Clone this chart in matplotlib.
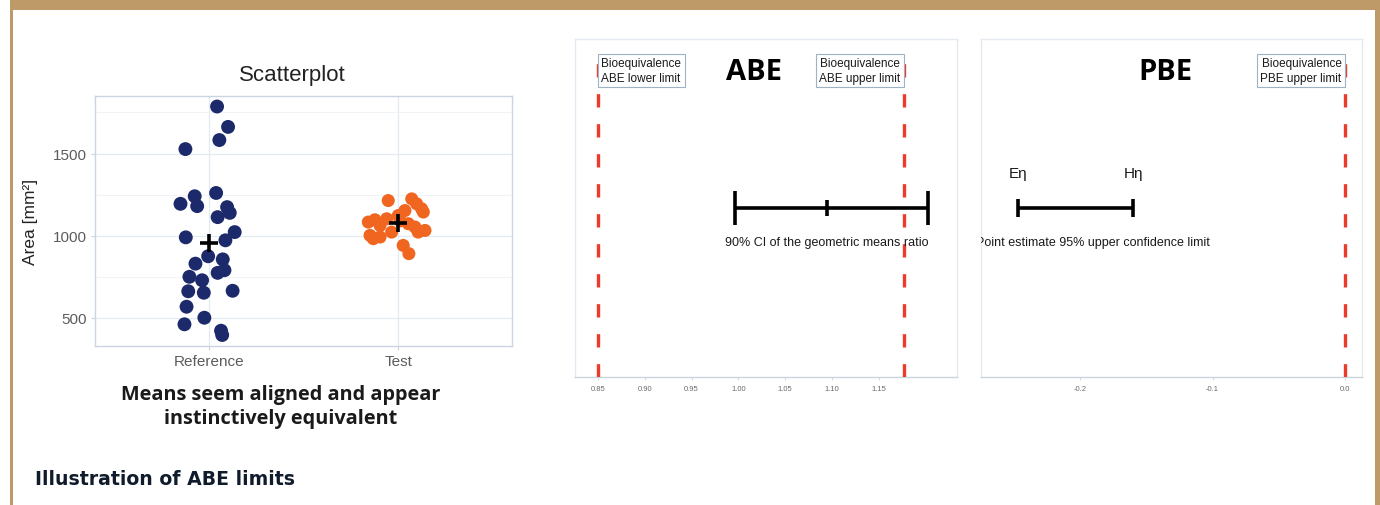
import matplotlib
matplotlib.use("Agg")
import matplotlib.pyplot as plt
from matplotlib.patches import Rectangle
import numpy as np

W, H = 1380, 506

# ---- scatterplot data -------------------------------------------------
groups = ["Reference", "Test"]
ref_area = [1786, 1662, 1582, 1527, 1260, 1240, 1194, 1180, 1174, 1139,
            1113, 1022, 990, 972, 875, 856, 830, 790, 774, 750,
            729, 662, 653, 665, 568, 501, 461, 422, 396]
ref_jitter = [0.044, 0.102, 0.056, -0.123, 0.039, -0.074, -0.149, -0.061, 0.097, 0.111,
              0.047, 0.137, -0.121, 0.088, -0.003, 0.074, -0.070, 0.083, 0.047, -0.102,
              -0.035, -0.108, -0.026, 0.126, -0.117, -0.023, -0.128, 0.065, 0.071]
test_area = [1214, 1224, 1194, 1164, 1144, 1153, 1123, 1103, 1097, 1083,
             1062, 1073, 1053, 1032, 1022, 1002, 992, 982, 1022, 941, 891, 1090]
test_jitter = [-0.053, 0.071, 0.097, 0.123, 0.132, 0.035, 0.000, -0.061, -0.123, -0.158,
               -0.096, 0.053, 0.088, 0.141, 0.105, -0.149, -0.096, -0.132, -0.035, 0.026,
               0.056, 0.010]
area_ticks = [500, 1000, 1500]

# ---- ABE panel data ---------------------------------------------------
abe_lower = 0.85
abe_upper = 1 / 0.85
abe_ci = (0.996, 1.094, 1.202)          # lower, point estimate, upper
abe_ticks = [0.85, 0.90, 0.95, 1.00, 1.05, 1.10, 1.15]

# ---- PBE panel data ---------------------------------------------------
pbe_upper = 0.0
pbe_interval = (-0.247, -0.160)         # E-eta, H-eta
pbe_ticks = [-0.2, -0.1, 0.0]
pbe_note_x = -0.19

NAVY = "#1c2a6b"
ORANGE = "#f0651f"
RED = "#ee3a2a"
GOLD = "#bd9a68"
TICK_GREY = "#5c5c5c"
SANS = ["Liberation Sans", "DejaVu Sans"]
HEAVY = ["Open Sans", "DejaVu Sans"]

plt.rcParams["font.family"] = SANS

fig = plt.figure(figsize=(W / 100, H / 100), dpi=100)
fig.patch.set_facecolor("white")


def fig_box(x0, y0, x1, y1):
    """Axes rectangle from pixel edges (origin top-left)."""
    return [x0 / W, 1 - y1 / H, (x1 - x0) / W, (y1 - y0) / H]


# ---- frame decoration -------------------------------------------------
for (x0, y0, x1, y1) in [(10, 0, 1380, 10.5), (10, 0, 12.7, 506), (1375, 0, 1380, 506)]:
    fig.add_artist(Rectangle((x0 / W, 1 - y1 / H), (x1 - x0) / W, (y1 - y0) / H,
                             transform=fig.transFigure, facecolor=GOLD,
                             edgecolor="none", zorder=0))

# ---- scatterplot ------------------------------------------------------
ax = fig.add_axes(fig_box(95, 97, 512, 347))
ax.set_xlim(0.4, 2.6)
ax.set_ylim(329, 1850)
ax.set_yticks(area_ticks)
ax.set_yticks([750, 1250, 1750], minor=True)
ax.set_xticks([1, 2])
ax.set_xticklabels(groups)
ax.grid(True, which="major", color="#e3eaf0", lw=0.9, zorder=0)
ax.grid(True, which="minor", axis="y", color="#eef2f5", lw=0.6, zorder=0)
ax.tick_params(which="minor", length=0)
ax.tick_params(which="major", length=3, color="#c9d6e2", labelcolor=TICK_GREY,
               labelsize=11, pad=3)
for s in ax.spines.values():
    s.set_color("#c9d6e2")
    s.set_linewidth(1.0)
ax.set_axisbelow(True)

ax.scatter(1 + np.array(ref_jitter), ref_area, s=100, color=NAVY, edgecolor="none", zorder=3)
ax.scatter(2 + np.array(test_jitter), test_area, s=88, color=ORANGE, edgecolor="none", zorder=3)
ax.plot([1, 2], [np.mean(ref_area), np.mean(test_area)], ls="none", marker="+",
        ms=13, mew=2.6, color="black", zorder=4)

fig.text(292 / W, 1 - 75 / H, "Scatterplot", ha="center", va="center",
         fontsize=16, color="#222222")
fig.text(30 / W, 1 - 222 / H, "Area [mm²]", ha="center", va="center",
         rotation=90, fontsize=12.5, color="#222222")

fig.text(281 / W, 1 - 407 / H, "Means seem aligned and appear\ninstinctively equivalent",
         ha="center", va="center", fontsize=14.3, fontweight="bold",
         family=HEAVY, color="#1a1a1a", linespacing=1.3)
fig.text(35 / W, 1 - 480 / H, "Illustration of ABE limits", ha="left", va="center",
         fontsize=13.6, fontweight="bold", family=["DejaVu Sans"], color="#101c2c")


def style_panel(a, ticks, labels):
    a.set_ylim(0, 1)
    a.set_yticks([])
    a.set_xticks(ticks)
    a.set_xticklabels(labels)
    a.tick_params(axis="x", length=2, color="#d5dee6", labelsize=5.5,
                  labelcolor="#6a6a6a", pad=4)
    for name, s in a.spines.items():
        s.set_color("#c8d5e0" if name == "bottom" else "#e4eaef")
        s.set_linewidth(1.0)


LABEL_KW = dict(fontsize=8.5, color="#1a1a1a", va="center", linespacing=1.25,
                textcoords="offset points", zorder=4,
                bbox=dict(boxstyle="square,pad=0.3", facecolor="white",
                          edgecolor="#9fb2c4", linewidth=0.8))


def limit_line(a, x):
    a.plot([x, x], [0, 0.962], color=RED, lw=2.4, dashes=(4, 5), zorder=3,
           solid_capstyle="butt", dash_capstyle="butt")


# ---- ABE panel --------------------------------------------------------
ax2 = fig.add_axes(fig_box(575, 40, 957, 378))
ax2.set_xlim(0.8258, 1.233)
style_panel(ax2, abe_ticks, [f"{t:.2f}" for t in abe_ticks])

ax2.annotate("Bioequivalence\nABE lower limit", xy=(abe_lower, 0.907),
             xytext=(2.6, 0), ha="left", **LABEL_KW)
ax2.annotate("Bioequivalence\nABE upper limit", xy=(abe_upper, 0.907),
             xytext=(-2.6, 0), ha="right", **LABEL_KW)
limit_line(ax2, abe_lower)
limit_line(ax2, abe_upper)

lo, pe, hi = abe_ci
ax2.plot([lo, hi], [0.5, 0.5], color="black", lw=2.6, solid_capstyle="butt", zorder=5)
ax2.plot([lo, hi], [0.5, 0.5], ls="none", marker="|", ms=24, mew=2.6, color="black", zorder=5)
ax2.plot([pe], [0.5], ls="none", marker="|", ms=11, mew=2.6, color="black", zorder=5)
ax2.text(pe, 0.40, "90% CI of the geometric means ratio", ha="center", va="center",
         fontsize=9, color="#1a1a1a", zorder=6)
ax2.text(0.4686, 0.905, "ABE", transform=ax2.transAxes, ha="center", va="center",
         fontsize=21, fontweight="bold", family=HEAVY, color="black")

# ---- PBE panel --------------------------------------------------------
ax3 = fig.add_axes(fig_box(981, 40, 1362, 378))
ax3.set_xlim(-0.2747, 0.0128)
style_panel(ax3, pbe_ticks, [f"{t:.1f}" for t in pbe_ticks])

ax3.annotate("Bioequivalence\nPBE upper limit", xy=(pbe_upper, 0.907),
             xytext=(-2.6, 0), ha="right", **LABEL_KW)
limit_line(ax3, pbe_upper)

e_eta, h_eta = pbe_interval
ax3.plot([e_eta, h_eta], [0.5, 0.5], color="black", lw=2.6, solid_capstyle="butt", zorder=5)
ax3.plot([e_eta, h_eta], [0.5, 0.5], ls="none", marker="|", ms=12.5, mew=2.6,
         color="black", zorder=5)
ax3.text(e_eta, 0.604, "Eη", ha="center", va="center", fontsize=11, color="#1a1a1a")
ax3.text(h_eta, 0.604, "Hη", ha="center", va="center", fontsize=11, color="#1a1a1a")
ax3.text(pbe_note_x, 0.40, "Point estimate 95% upper confidence limit", ha="center",
         va="center", fontsize=9, color="#1a1a1a", clip_on=True)
ax3.text(0.485, 0.905, "PBE", transform=ax3.transAxes, ha="center", va="center",
         fontsize=21, fontweight="bold", family=HEAVY, color="black")

fig.savefig("out.png", dpi=100, facecolor="white")
